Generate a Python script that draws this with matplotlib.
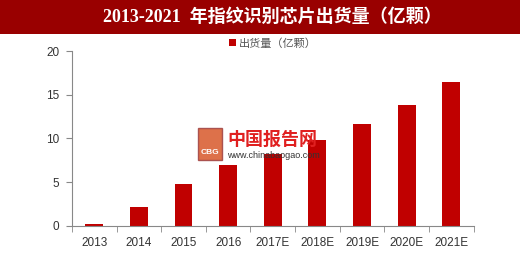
import matplotlib.pyplot as plt
from matplotlib.patches import Rectangle

YEARS = ["2013", "2014", "2015", "2016", "2017E", "2018E", "2019E", "2020E", "2021E"]
SHIPMENTS = [0.2, 2.1, 4.8, 6.9, 8.2, 9.8, 11.7, 13.8, 16.5]
TITLE = "2013-2021  年指纹识别芯片出货量（亿颗）"
SERIES_NAME = "出货量（亿颗）"

RED = "#c00000"
BAR_RED = "#990000"
CJK = ["Noto Sans CJK SC", "DejaVu Sans"]

plt.rcParams["font.family"] = ["Liberation Sans", "Noto Sans CJK SC"]

fig = plt.figure(figsize=(5.2, 2.57), dpi=100)

# title banner
fig.patches.append(Rectangle((0, 1 - 34 / 257), 1, 34 / 257, transform=fig.transFigure,
                             facecolor=BAR_RED, edgecolor="none", zorder=0))
fig.text(272 / 520, 1 - 17 / 257, TITLE, ha="center", va="center", color="white",
         fontsize=13, fontweight="bold", family=["Liberation Serif", "Noto Sans CJK SC"])

ax = fig.add_axes([72 / 520, 1 - 225.7 / 257, 401.6 / 520, (225.7 - 51) / 257])
x = list(range(len(YEARS)))
ax.bar(x, SHIPMENTS, width=0.4, color=RED, label=SERIES_NAME, zorder=2)

ax.set_xlim(-0.5, len(YEARS) - 0.5)
ax.set_ylim(0, 20)
ax.set_yticks([0, 5, 10, 15, 20])
ax.set_xticks(x)
ax.set_xticklabels(YEARS)
ax.set_xticks([i - 0.5 for i in range(len(YEARS) + 1)], minor=True)
ax.tick_params(axis="x", which="major", length=0, pad=8, labelsize=8.5, colors="#333333")
ax.tick_params(axis="x", which="minor", length=4, direction="out", color="#888888")
ax.tick_params(axis="y", length=4, direction="out", color="#888888", labelsize=8.5,
               labelcolor="#333333", pad=5)
for s in ["top", "right"]:
    ax.spines[s].set_visible(False)
for s in ["left", "bottom"]:
    ax.spines[s].set_color("#888888")
    ax.spines[s].set_linewidth(0.8)

leg = ax.legend(loc="upper center", bbox_to_anchor=(0.5, 1.13), frameon=False,
                handlelength=0.6, handleheight=0.6, handletextpad=0.3,
                prop={"family": CJK, "size": 8})
for t in leg.get_texts():
    t.set_color("#555555")

# watermark
fig.patches.append(Rectangle((198 / 520, 1 - 160 / 257), 24 / 520, 32 / 257,
                             transform=fig.transFigure, facecolor="#d8582a",
                             edgecolor="#a04040", alpha=0.85, zorder=5))
fig.text(210 / 520, 1 - 153 / 257, "CBG", ha="center", va="center", color="white",
         fontsize=6, fontweight="bold", zorder=6)
fig.text(227 / 520, 1 - 139 / 257, "中国报告网", ha="left", va="center", color="#e02020",
         fontsize=13, fontweight="bold", family=CJK, zorder=6)
fig.text(227 / 520, 1 - 155 / 257, "www.chinabaogao.com", ha="left", va="center",
         color="#333333", fontsize=6.5, zorder=6)

fig.savefig("out.png", dpi=100)
